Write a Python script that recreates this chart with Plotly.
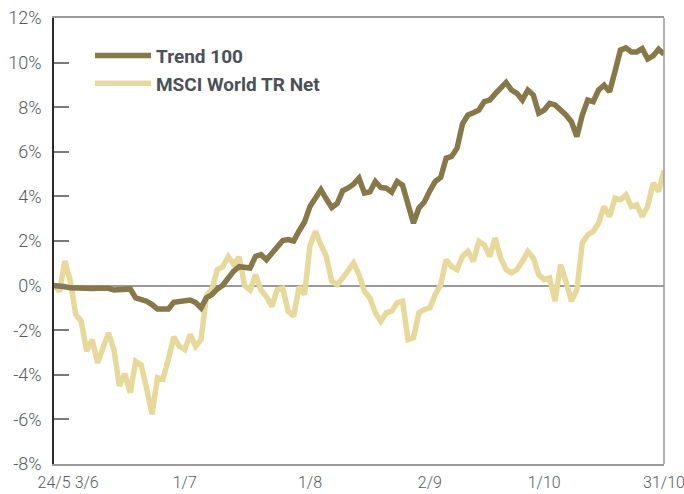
import plotly.graph_objects as go

# Trading-day index 0..112 (24/5 .. 31/10)
tick_labels = ["24/5", "3/6", "1/7", "1/8", "2/9", "1/10", "31/10"]
tick_index = [0, 6, 24, 47, 69, 90, 112]

trend100 = [
    0.0, 0.0, -0.05, -0.1, -0.12, -0.15, -0.15, -0.13, -0.12, -0.12,
    -0.12, -0.2, -0.2, -0.18, -0.15, -0.55, -0.62, -0.7, -0.85, -1.05,
    -1.05, -1.05, -0.75, -0.7, -0.7, -0.65, -0.76, -1.0, -0.54, -0.4,
    -0.15, 0.02, 0.34, 0.65, 0.85, 0.85, 0.79, 1.31, 1.39, 1.16,
    1.45, 1.8, 2.02, 2.06, 2.0, 2.45, 2.85, 3.55, 3.95, 4.3,
    3.88, 3.5, 3.68, 4.25, 4.38, 4.55, 4.82, 4.15, 4.2, 4.67,
    4.4, 4.37, 4.19, 4.67, 4.5, 3.65, 2.8, 3.48, 3.75, 4.25,
    4.67, 4.85, 5.71, 5.79, 6.16, 7.25, 7.65, 7.75, 7.87, 8.25,
    8.32, 8.6, 8.85, 9.11, 8.77, 8.62, 8.32, 8.77, 8.55, 7.73,
    7.87, 8.17, 8.1, 7.9, 7.65, 7.35, 6.68, 7.65, 8.32, 8.25,
    8.77, 8.99, 8.69, 9.6, 10.56, 10.66, 10.48, 10.48, 10.63, 10.16,
    10.3, 10.6, 10.37,
]

msci_world = [
    0.0, -0.26, 1.1, 0.2, -1.3, -1.6, -2.94, -2.42, -3.46, -2.85,
    -2.12, -2.86, -4.5, -3.95, -4.8, -3.4, -3.56, -4.6, -5.77, -4.13,
    -4.2, -3.3, -2.3, -2.72, -2.87, -2.19, -2.72, -2.42, -0.45, -0.15,
    0.72, 0.85, 1.3, 0.95, 1.28, 0.0, -0.2, 0.49, -0.2, -0.5,
    -0.93, -0.18, -0.12, -1.15, -1.37, -0.05, -0.4, 1.8, 2.43, 1.83,
    1.31, 0.19, 0.04, 0.34, 0.64, 1.02, 0.49, -0.26, -0.55, -1.22,
    -1.6, -1.22, -1.15, -0.77, -0.7, -2.42, -2.34, -1.22, -1.07, -1.0,
    -0.4, 0.04, 1.16, 0.85, 0.72, 1.31, 1.53, 1.09, 1.98, 1.83,
    1.31, 2.13, 1.24, 0.72, 0.57, 0.72, 1.09, 1.53, 1.24, 0.49,
    0.27, 0.34, -0.7, 0.94, 0.19, -0.7, -0.18, 1.91, 2.28, 2.43,
    2.81, 3.55, 3.1, 3.92, 3.85, 4.07, 3.55, 3.62, 3.1, 3.55,
    4.6, 4.22, 5.15,
]

y_ticks = list(range(-8, 13, 2))
y_tick_text = [f"{v}%" for v in y_ticks]

FONT = "Roboto, sans-serif"

fig = go.Figure()
# MSCI drawn first so Trend 100 sits on top; legend order fixed by legendrank
fig.add_trace(go.Scatter(
    x=list(range(len(msci_world))), y=msci_world, mode="lines", name="MSCI World TR Net",
    line=dict(color="#e7d99b", width=5.5), legendrank=2,
))
fig.add_trace(go.Scatter(
    x=list(range(len(trend100))), y=trend100, mode="lines", name="Trend 100",
    line=dict(color="#877849", width=5.5), legendrank=1,
))

fig.update_layout(
    width=684, height=494,
    margin=dict(l=54, r=20, t=18, b=30, autoexpand=False),
    paper_bgcolor="white", plot_bgcolor="white",
    showlegend=True,
    legend=dict(
        x=0.059, y=0.958, xanchor="left", yanchor="top",
        bgcolor="rgba(0,0,0,0)", traceorder="normal",
        font=dict(family=FONT, size=19, color="#4b5157", weight="bold"),
        itemwidth=56, tracegroupgap=0,
    ),
    xaxis=dict(
        range=[0, 112], automargin=False,
        tickmode="array", tickvals=tick_index, ticktext=tick_labels,
        tickangle=0, ticklabeloverflow="allow",
        ticks="", showgrid=False, zeroline=False,
        showline=True, linecolor="#9a9a9a", linewidth=1.5, mirror=True,
        tickfont=dict(family=FONT, size=16, color="#555b61", weight=300),
        ticklabelstandoff=3,
    ),
    yaxis=dict(
        range=[-8, 12], automargin=False,
        tickmode="array", tickvals=y_ticks, ticktext=y_tick_text,
        ticks="inside", ticklen=15, tickwidth=1.5, tickcolor="#7a7a7a",
        showgrid=False,
        zeroline=True, zerolinecolor="#9a9a9a", zerolinewidth=1.5,
        showline=True, linecolor="#2a2a2a", linewidth=1.5,
        tickfont=dict(family=FONT, size=18, color="#555b61", weight=300),
        ticklabelstandoff=7, ticklabeloverflow="allow",
    ),
    shapes=[
        dict(type="line", xref="paper", yref="paper", x0=1, x1=1, y0=0, y1=1,
             line=dict(color="#9a9a9a", width=1.5)),
    ],
)

fig.write_html(
    "out.html",
    config={"displayModeBar": False},
    post_script="document.body.style.margin='0';",
)
